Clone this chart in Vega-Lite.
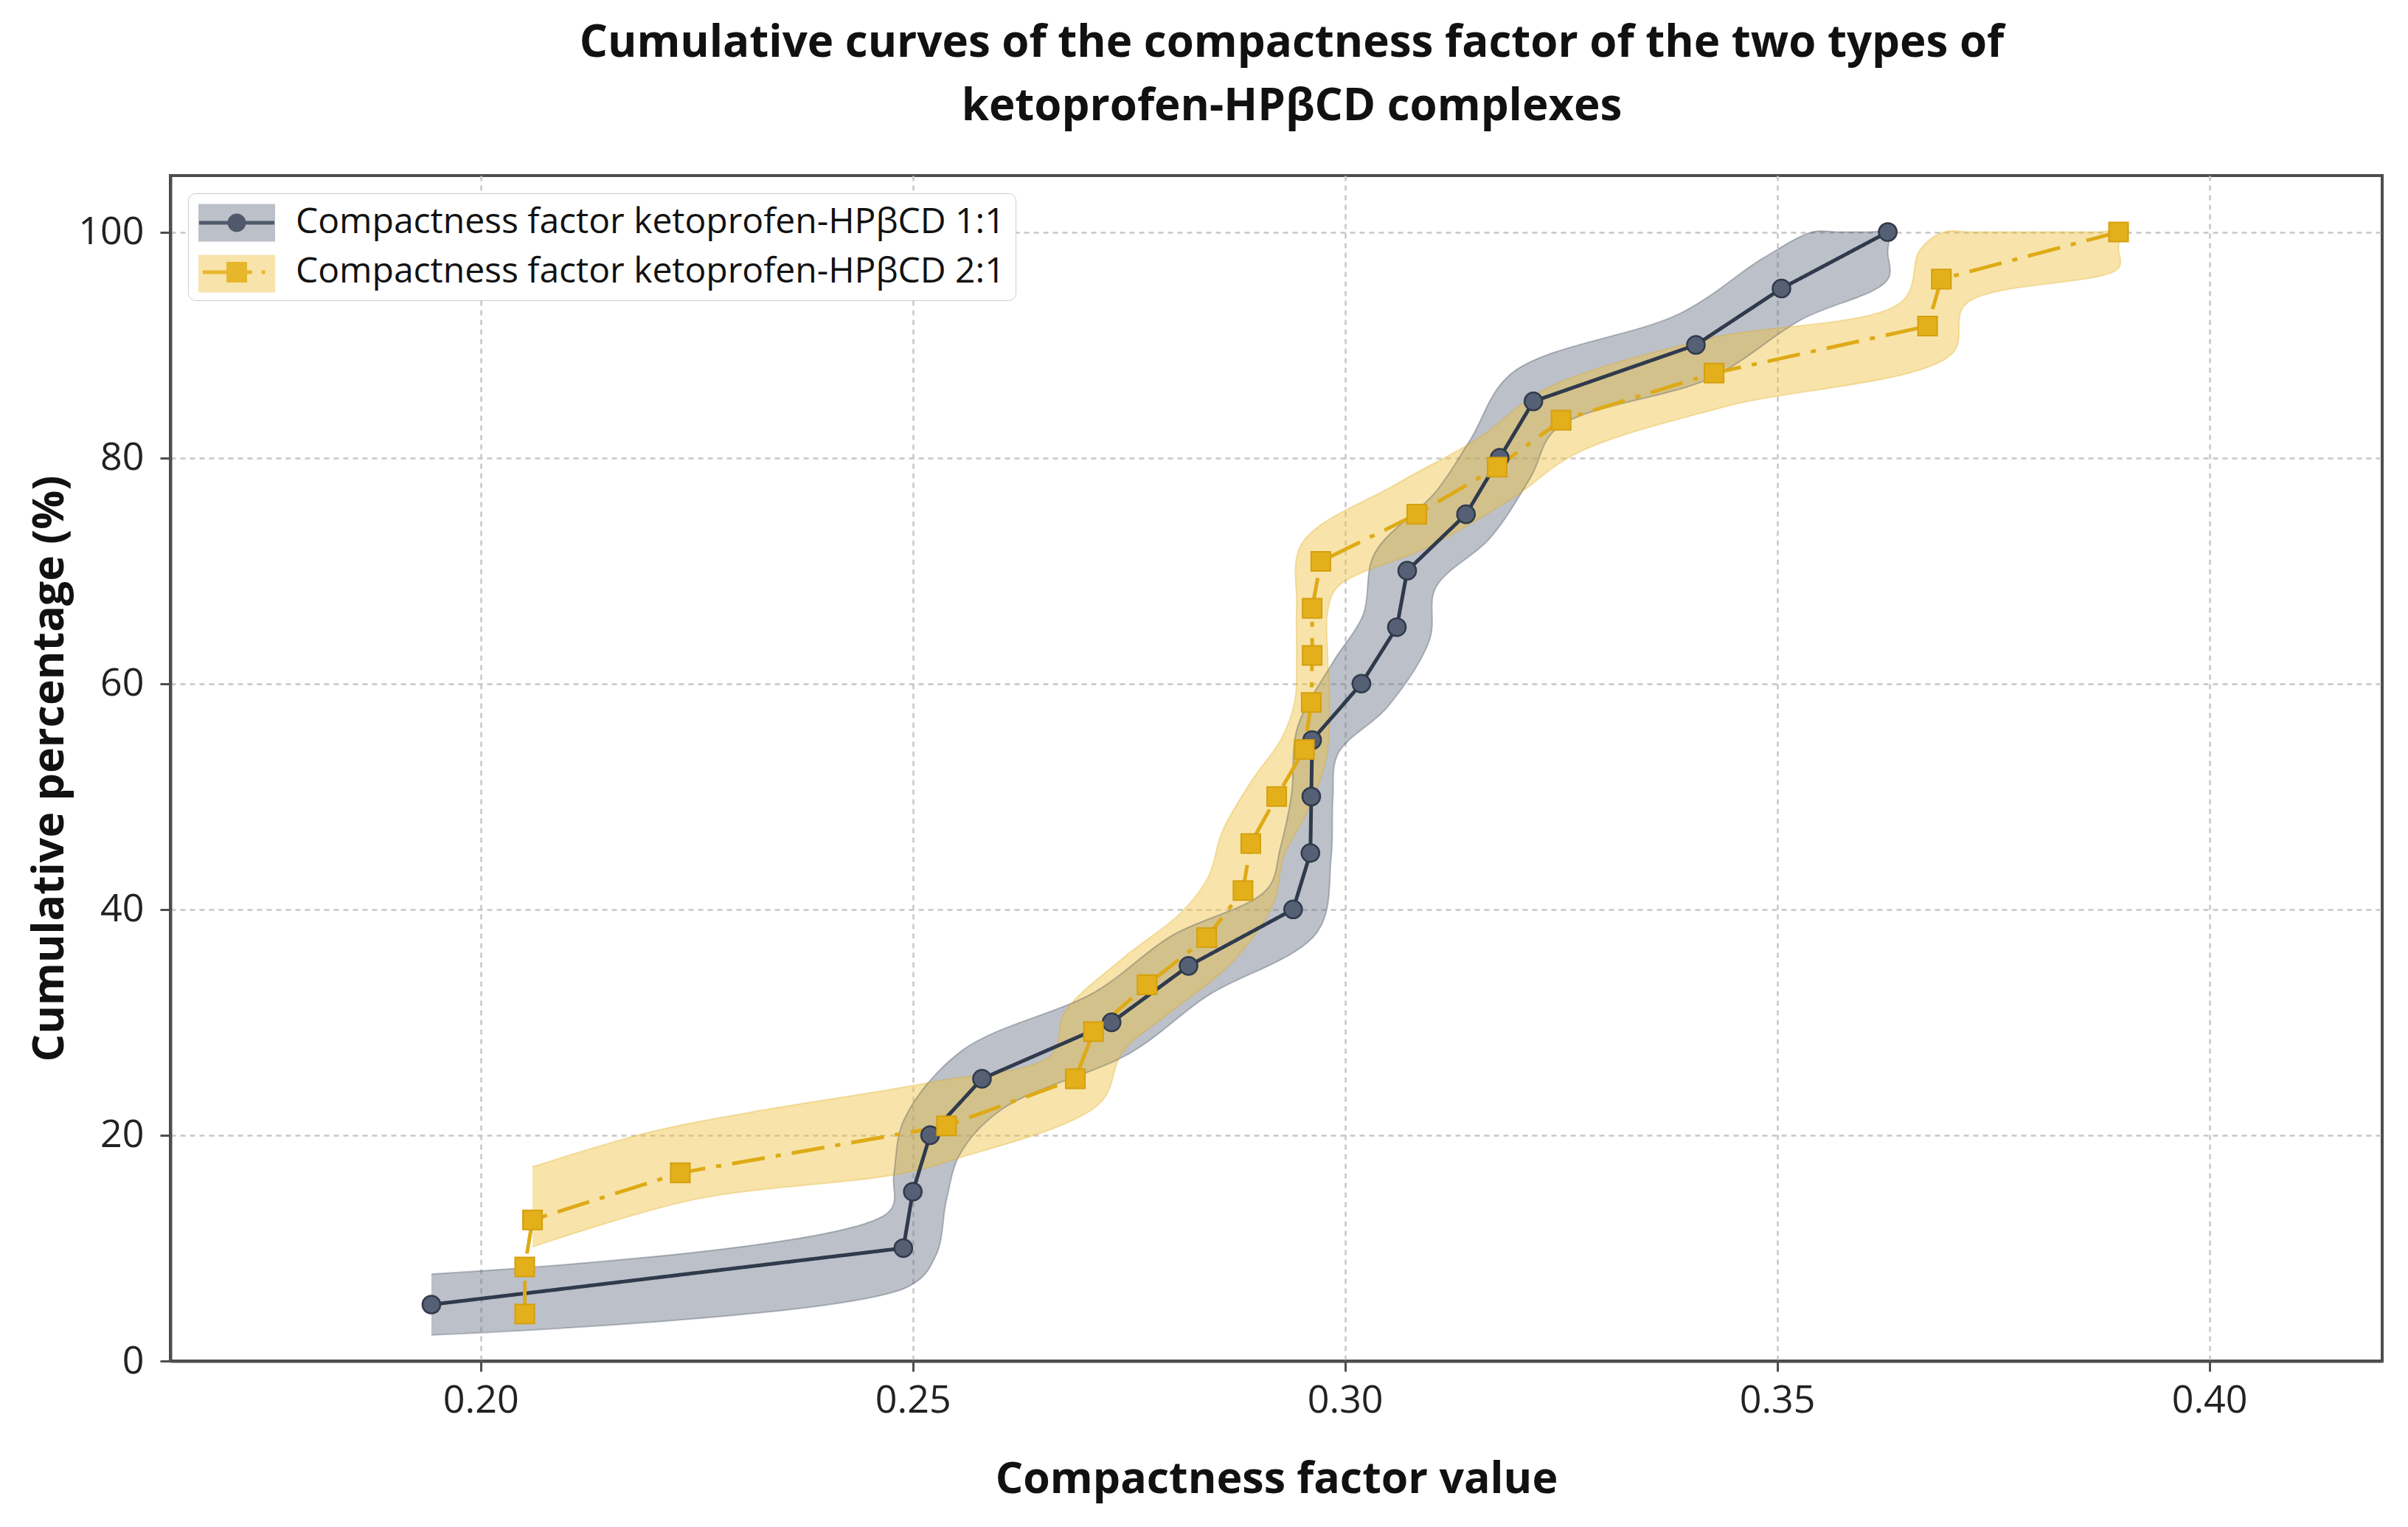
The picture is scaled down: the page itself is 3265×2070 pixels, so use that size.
{
  "$schema": "https://vega.github.io/schema/vega-lite/v6.json",
  "width": 2999,
  "height": 1607,
  "autosize": {"type": "none"},
  "padding": {"left": 231, "top": 238, "right": 35, "bottom": 225},
  "background": "white",
  "config": {
    "font": "Open Sans",
    "view": {"stroke": "#4d4d4d", "strokeWidth": 4},
    "axis": {
      "grid": true,
      "gridColor": "#c6c6c6",
      "gridDash": [7, 6],
      "gridWidth": 2.5,
      "domainColor": "#4d4d4d",
      "domainWidth": 4,
      "tickColor": "#4d4d4d",
      "tickWidth": 3,
      "tickSize": 14,
      "labelFont": "Open Sans",
      "labelFontSize": 52,
      "labelColor": "#222222",
      "titleFont": "Open Sans",
      "titleFontSize": 59,
      "titleFontWeight": "bold",
      "titleColor": "#111111"
    }
  },
  "title": {
    "text": ["Cumulative curves of the compactness factor of the two types of", "ketoprofen-HPβCD complexes"],
    "font": "Open Sans",
    "fontSize": 60,
    "fontWeight": "bold",
    "color": "#111111",
    "lineHeight": 86,
    "anchor": "middle",
    "baseline": "bottom",
    "dx": 21,
    "offset": 2
  },
  "datasets": {
    "pts": [
      {"series": "Compactness factor ketoprofen-HPβCD 1:1", "x": 0.1943, "y": 5},
      {"series": "Compactness factor ketoprofen-HPβCD 1:1", "x": 0.2489, "y": 10},
      {"series": "Compactness factor ketoprofen-HPβCD 1:1", "x": 0.2500, "y": 15},
      {"series": "Compactness factor ketoprofen-HPβCD 1:1", "x": 0.2520, "y": 20},
      {"series": "Compactness factor ketoprofen-HPβCD 1:1", "x": 0.2580, "y": 25},
      {"series": "Compactness factor ketoprofen-HPβCD 1:1", "x": 0.2730, "y": 30},
      {"series": "Compactness factor ketoprofen-HPβCD 1:1", "x": 0.2819, "y": 35},
      {"series": "Compactness factor ketoprofen-HPβCD 1:1", "x": 0.2940, "y": 40},
      {"series": "Compactness factor ketoprofen-HPβCD 1:1", "x": 0.2960, "y": 45},
      {"series": "Compactness factor ketoprofen-HPβCD 1:1", "x": 0.2961, "y": 50},
      {"series": "Compactness factor ketoprofen-HPβCD 1:1", "x": 0.2962, "y": 55},
      {"series": "Compactness factor ketoprofen-HPβCD 1:1", "x": 0.3019, "y": 60},
      {"series": "Compactness factor ketoprofen-HPβCD 1:1", "x": 0.3060, "y": 65},
      {"series": "Compactness factor ketoprofen-HPβCD 1:1", "x": 0.3072, "y": 70},
      {"series": "Compactness factor ketoprofen-HPβCD 1:1", "x": 0.3140, "y": 75},
      {"series": "Compactness factor ketoprofen-HPβCD 1:1", "x": 0.3179, "y": 80},
      {"series": "Compactness factor ketoprofen-HPβCD 1:1", "x": 0.3218, "y": 85},
      {"series": "Compactness factor ketoprofen-HPβCD 1:1", "x": 0.3406, "y": 90},
      {"series": "Compactness factor ketoprofen-HPβCD 1:1", "x": 0.3505, "y": 95},
      {"series": "Compactness factor ketoprofen-HPβCD 1:1", "x": 0.3628, "y": 100},
      {"series": "Compactness factor ketoprofen-HPβCD 2:1", "x": 0.2051, "y": 4.17},
      {"series": "Compactness factor ketoprofen-HPβCD 2:1", "x": 0.2051, "y": 8.33},
      {"series": "Compactness factor ketoprofen-HPβCD 2:1", "x": 0.2060, "y": 12.5},
      {"series": "Compactness factor ketoprofen-HPβCD 2:1", "x": 0.2231, "y": 16.67},
      {"series": "Compactness factor ketoprofen-HPβCD 2:1", "x": 0.2539, "y": 20.83},
      {"series": "Compactness factor ketoprofen-HPβCD 2:1", "x": 0.2688, "y": 25},
      {"series": "Compactness factor ketoprofen-HPβCD 2:1", "x": 0.2709, "y": 29.17},
      {"series": "Compactness factor ketoprofen-HPβCD 2:1", "x": 0.2771, "y": 33.33},
      {"series": "Compactness factor ketoprofen-HPβCD 2:1", "x": 0.2840, "y": 37.5},
      {"series": "Compactness factor ketoprofen-HPβCD 2:1", "x": 0.2882, "y": 41.67},
      {"series": "Compactness factor ketoprofen-HPβCD 2:1", "x": 0.2891, "y": 45.83},
      {"series": "Compactness factor ketoprofen-HPβCD 2:1", "x": 0.2921, "y": 50},
      {"series": "Compactness factor ketoprofen-HPβCD 2:1", "x": 0.2953, "y": 54.17},
      {"series": "Compactness factor ketoprofen-HPβCD 2:1", "x": 0.2961, "y": 58.33},
      {"series": "Compactness factor ketoprofen-HPβCD 2:1", "x": 0.2962, "y": 62.5},
      {"series": "Compactness factor ketoprofen-HPβCD 2:1", "x": 0.2962, "y": 66.67},
      {"series": "Compactness factor ketoprofen-HPβCD 2:1", "x": 0.2972, "y": 70.83},
      {"series": "Compactness factor ketoprofen-HPβCD 2:1", "x": 0.3083, "y": 75},
      {"series": "Compactness factor ketoprofen-HPβCD 2:1", "x": 0.3176, "y": 79.17},
      {"series": "Compactness factor ketoprofen-HPβCD 2:1", "x": 0.3250, "y": 83.33},
      {"series": "Compactness factor ketoprofen-HPβCD 2:1", "x": 0.3427, "y": 87.5},
      {"series": "Compactness factor ketoprofen-HPβCD 2:1", "x": 0.3674, "y": 91.67},
      {"series": "Compactness factor ketoprofen-HPβCD 2:1", "x": 0.3690, "y": 95.83},
      {"series": "Compactness factor ketoprofen-HPβCD 2:1", "x": 0.3895, "y": 100}
    ],
    "band": [
      {"series": "Compactness factor ketoprofen-HPβCD 1:1", "ord": 0, "x": 0.1943, "y": 7.7},
      {"series": "Compactness factor ketoprofen-HPβCD 1:1", "ord": 1, "x": 0.2472, "y": 13.2},
      {"series": "Compactness factor ketoprofen-HPβCD 1:1", "ord": 2, "x": 0.2478, "y": 16.5},
      {"series": "Compactness factor ketoprofen-HPβCD 1:1", "ord": 3, "x": 0.2490, "y": 21.4},
      {"series": "Compactness factor ketoprofen-HPβCD 1:1", "ord": 4, "x": 0.2557, "y": 27.5},
      {"series": "Compactness factor ketoprofen-HPβCD 1:1", "ord": 5, "x": 0.2711, "y": 32.7},
      {"series": "Compactness factor ketoprofen-HPβCD 1:1", "ord": 6, "x": 0.2798, "y": 37.6},
      {"series": "Compactness factor ketoprofen-HPβCD 1:1", "ord": 7, "x": 0.2910, "y": 41.8},
      {"series": "Compactness factor ketoprofen-HPβCD 1:1", "ord": 8, "x": 0.2925, "y": 45.4},
      {"series": "Compactness factor ketoprofen-HPβCD 1:1", "ord": 9, "x": 0.2938, "y": 50.1},
      {"series": "Compactness factor ketoprofen-HPβCD 1:1", "ord": 10, "x": 0.2945, "y": 56.1},
      {"series": "Compactness factor ketoprofen-HPβCD 1:1", "ord": 11, "x": 0.2986, "y": 61.9},
      {"series": "Compactness factor ketoprofen-HPβCD 1:1", "ord": 12, "x": 0.3021, "y": 66.1},
      {"series": "Compactness factor ketoprofen-HPβCD 1:1", "ord": 13, "x": 0.3034, "y": 71.5},
      {"series": "Compactness factor ketoprofen-HPβCD 1:1", "ord": 14, "x": 0.3105, "y": 77.0},
      {"series": "Compactness factor ketoprofen-HPβCD 1:1", "ord": 15, "x": 0.3145, "y": 81.6},
      {"series": "Compactness factor ketoprofen-HPβCD 1:1", "ord": 16, "x": 0.3193, "y": 87.5},
      {"series": "Compactness factor ketoprofen-HPβCD 1:1", "ord": 17, "x": 0.3388, "y": 92.8},
      {"series": "Compactness factor ketoprofen-HPβCD 1:1", "ord": 18, "x": 0.3484, "y": 97.7},
      {"series": "Compactness factor ketoprofen-HPβCD 1:1", "ord": 19, "x": 0.3541, "y": 100},
      {"series": "Compactness factor ketoprofen-HPβCD 1:1", "ord": 19.3, "x": 0.3570, "y": 100},
      {"series": "Compactness factor ketoprofen-HPβCD 1:1", "ord": 19.6, "x": 0.3608, "y": 100},
      {"series": "Compactness factor ketoprofen-HPβCD 1:1", "ord": 20, "x": 0.3628, "y": 100},
      {"series": "Compactness factor ketoprofen-HPβCD 1:1", "ord": 20.5, "x": 0.3628, "y": 98.2},
      {"series": "Compactness factor ketoprofen-HPβCD 1:1", "ord": 21, "x": 0.3628, "y": 95.8},
      {"series": "Compactness factor ketoprofen-HPβCD 1:1", "ord": 22, "x": 0.3527, "y": 92.2},
      {"series": "Compactness factor ketoprofen-HPβCD 1:1", "ord": 23, "x": 0.3424, "y": 87.1},
      {"series": "Compactness factor ketoprofen-HPβCD 1:1", "ord": 24, "x": 0.3245, "y": 82.6},
      {"series": "Compactness factor ketoprofen-HPβCD 1:1", "ord": 25, "x": 0.3215, "y": 78.3},
      {"series": "Compactness factor ketoprofen-HPβCD 1:1", "ord": 26, "x": 0.3168, "y": 72.9},
      {"series": "Compactness factor ketoprofen-HPβCD 1:1", "ord": 27, "x": 0.3105, "y": 68.5},
      {"series": "Compactness factor ketoprofen-HPβCD 1:1", "ord": 28, "x": 0.3098, "y": 63.9},
      {"series": "Compactness factor ketoprofen-HPβCD 1:1", "ord": 29, "x": 0.3050, "y": 58.0},
      {"series": "Compactness factor ketoprofen-HPβCD 1:1", "ord": 30, "x": 0.2992, "y": 53.8},
      {"series": "Compactness factor ketoprofen-HPβCD 1:1", "ord": 31, "x": 0.2986, "y": 49.9},
      {"series": "Compactness factor ketoprofen-HPβCD 1:1", "ord": 32, "x": 0.2984, "y": 44.6},
      {"series": "Compactness factor ketoprofen-HPβCD 1:1", "ord": 33, "x": 0.2968, "y": 38.0},
      {"series": "Compactness factor ketoprofen-HPβCD 1:1", "ord": 34, "x": 0.2840, "y": 32.3},
      {"series": "Compactness factor ketoprofen-HPβCD 1:1", "ord": 35, "x": 0.2752, "y": 27.3},
      {"series": "Compactness factor ketoprofen-HPβCD 1:1", "ord": 36, "x": 0.2603, "y": 22.3},
      {"series": "Compactness factor ketoprofen-HPβCD 1:1", "ord": 37, "x": 0.2555, "y": 18.4},
      {"series": "Compactness factor ketoprofen-HPβCD 1:1", "ord": 38, "x": 0.2539, "y": 14.3},
      {"series": "Compactness factor ketoprofen-HPβCD 1:1", "ord": 39, "x": 0.2527, "y": 9.4},
      {"series": "Compactness factor ketoprofen-HPβCD 1:1", "ord": 40, "x": 0.2495, "y": 6.6},
      {"series": "Compactness factor ketoprofen-HPβCD 1:1", "ord": 41, "x": 0.1943, "y": 2.3},
      {"series": "Compactness factor ketoprofen-HPβCD 2:1", "ord": 0, "x": 0.2060, "y": 17.2},
      {"series": "Compactness factor ketoprofen-HPβCD 2:1", "ord": 1, "x": 0.2197, "y": 20.3},
      {"series": "Compactness factor ketoprofen-HPβCD 2:1", "ord": 2, "x": 0.2317, "y": 22.1},
      {"series": "Compactness factor ketoprofen-HPβCD 2:1", "ord": 3, "x": 0.2521, "y": 24.7},
      {"series": "Compactness factor ketoprofen-HPβCD 2:1", "ord": 4, "x": 0.2660, "y": 27.1},
      {"series": "Compactness factor ketoprofen-HPβCD 2:1", "ord": 5, "x": 0.2676, "y": 30.9},
      {"series": "Compactness factor ketoprofen-HPβCD 2:1", "ord": 6, "x": 0.2745, "y": 35.8},
      {"series": "Compactness factor ketoprofen-HPβCD 2:1", "ord": 7, "x": 0.2810, "y": 39.7},
      {"series": "Compactness factor ketoprofen-HPβCD 2:1", "ord": 8, "x": 0.2842, "y": 42.9},
      {"series": "Compactness factor ketoprofen-HPβCD 2:1", "ord": 9, "x": 0.2858, "y": 46.9},
      {"series": "Compactness factor ketoprofen-HPβCD 2:1", "ord": 10, "x": 0.2893, "y": 51.5},
      {"series": "Compactness factor ketoprofen-HPβCD 2:1", "ord": 11, "x": 0.2927, "y": 55.2},
      {"series": "Compactness factor ketoprofen-HPβCD 2:1", "ord": 12, "x": 0.2942, "y": 58.5},
      {"series": "Compactness factor ketoprofen-HPβCD 2:1", "ord": 13, "x": 0.2944, "y": 62.4},
      {"series": "Compactness factor ketoprofen-HPβCD 2:1", "ord": 14, "x": 0.2944, "y": 66.9},
      {"series": "Compactness factor ketoprofen-HPβCD 2:1", "ord": 15, "x": 0.2950, "y": 72.4},
      {"series": "Compactness factor ketoprofen-HPβCD 2:1", "ord": 16, "x": 0.3060, "y": 77.7},
      {"series": "Compactness factor ketoprofen-HPβCD 2:1", "ord": 17, "x": 0.3154, "y": 81.7},
      {"series": "Compactness factor ketoprofen-HPβCD 2:1", "ord": 18, "x": 0.3232, "y": 86.1},
      {"series": "Compactness factor ketoprofen-HPβCD 2:1", "ord": 19, "x": 0.3417, "y": 90.5},
      {"series": "Compactness factor ketoprofen-HPβCD 2:1", "ord": 20, "x": 0.3645, "y": 93.9},
      {"series": "Compactness factor ketoprofen-HPβCD 2:1", "ord": 21, "x": 0.3665, "y": 98.4},
      {"series": "Compactness factor ketoprofen-HPβCD 2:1", "ord": 22, "x": 0.3693, "y": 100},
      {"series": "Compactness factor ketoprofen-HPβCD 2:1", "ord": 22.3, "x": 0.3725, "y": 100},
      {"series": "Compactness factor ketoprofen-HPβCD 2:1", "ord": 22.6, "x": 0.3870, "y": 100},
      {"series": "Compactness factor ketoprofen-HPβCD 2:1", "ord": 23, "x": 0.3895, "y": 100},
      {"series": "Compactness factor ketoprofen-HPβCD 2:1", "ord": 23.5, "x": 0.3895, "y": 98.5},
      {"series": "Compactness factor ketoprofen-HPβCD 2:1", "ord": 24, "x": 0.3895, "y": 96.8},
      {"series": "Compactness factor ketoprofen-HPβCD 2:1", "ord": 25, "x": 0.3718, "y": 93.6},
      {"series": "Compactness factor ketoprofen-HPβCD 2:1", "ord": 26, "x": 0.3702, "y": 89.2},
      {"series": "Compactness factor ketoprofen-HPβCD 2:1", "ord": 27, "x": 0.3438, "y": 84.5},
      {"series": "Compactness factor ketoprofen-HPβCD 2:1", "ord": 28, "x": 0.3268, "y": 80.4},
      {"series": "Compactness factor ketoprofen-HPβCD 2:1", "ord": 29, "x": 0.3197, "y": 76.6},
      {"series": "Compactness factor ketoprofen-HPβCD 2:1", "ord": 30, "x": 0.3099, "y": 72.2},
      {"series": "Compactness factor ketoprofen-HPβCD 2:1", "ord": 31, "x": 0.2992, "y": 68.6},
      {"series": "Compactness factor ketoprofen-HPβCD 2:1", "ord": 32, "x": 0.2980, "y": 66.4},
      {"series": "Compactness factor ketoprofen-HPβCD 2:1", "ord": 33, "x": 0.2980, "y": 62.4},
      {"series": "Compactness factor ketoprofen-HPβCD 2:1", "ord": 34, "x": 0.2982, "y": 58.0},
      {"series": "Compactness factor ketoprofen-HPβCD 2:1", "ord": 35, "x": 0.2978, "y": 53.3},
      {"series": "Compactness factor ketoprofen-HPβCD 2:1", "ord": 36, "x": 0.2955, "y": 48.5},
      {"series": "Compactness factor ketoprofen-HPβCD 2:1", "ord": 37, "x": 0.2929, "y": 44.7},
      {"series": "Compactness factor ketoprofen-HPβCD 2:1", "ord": 38, "x": 0.2917, "y": 40.5},
      {"series": "Compactness factor ketoprofen-HPβCD 2:1", "ord": 39, "x": 0.2869, "y": 35.3},
      {"series": "Compactness factor ketoprofen-HPβCD 2:1", "ord": 40, "x": 0.2798, "y": 30.9},
      {"series": "Compactness factor ketoprofen-HPβCD 2:1", "ord": 41, "x": 0.2743, "y": 27.4},
      {"series": "Compactness factor ketoprofen-HPβCD 2:1", "ord": 42, "x": 0.2716, "y": 22.8},
      {"series": "Compactness factor ketoprofen-HPβCD 2:1", "ord": 43, "x": 0.2550, "y": 17.9},
      {"series": "Compactness factor ketoprofen-HPβCD 2:1", "ord": 44, "x": 0.2479, "y": 16.5},
      {"series": "Compactness factor ketoprofen-HPβCD 2:1", "ord": 45, "x": 0.2247, "y": 14.3},
      {"series": "Compactness factor ketoprofen-HPβCD 2:1", "ord": 46, "x": 0.2060, "y": 10.1}
    ]
  },
  "encoding": {
    "x": {
      "field": "x",
      "type": "quantitative",
      "title": "Compactness factor value",
      "scale": {"domain": [0.1641, 0.42], "nice": false, "zero": false},
      "axis": {"values": [0.2, 0.25, 0.3, 0.35, 0.4], "format": ".2f", "labelPadding": 14, "titlePadding": 52}
    },
    "y": {
      "field": "y",
      "type": "quantitative",
      "title": "Cumulative percentage (%)",
      "scale": {"domain": [0, 105], "nice": false},
      "axis": {"values": [0, 20, 40, 60, 80, 100], "labelPadding": 22, "titlePadding": 8}
    }
  },
  "layer": [
    {
      "data": {"name": "pts"},
      "mark": {"type": "point", "filled": true, "opacity": 0},
      "encoding": {
        "color": {
          "field": "series",
          "type": "nominal",
          "scale": {"range": ["#3a4457", "#e0ad18"]},
          "legend": {
            "title": null,
            "orient": "none",
            "legendX": 24,
            "legendY": 24,
            "padding": 14,
            "fillColor": "white",
            "strokeColor": "#cccccc",
            "cornerRadius": 10,
            "symbolSize": 2704,
            "symbolOpacity": 1,
            "symbolStrokeWidth": 0,
            "labelFont": "Open Sans",
            "labelFontSize": 48,
            "labelColor": "#111111",
            "labelOffset": 80,
            "labelLimit": 3000,
            "rowPadding": 17
          }
        },
        "shape": {
          "field": "series",
          "type": "nominal",
          "scale": {
            "range": [
              "M-0.96,-0.1H2.96V0.1H-0.96Z M1.48,0A0.48,0.48,0,1,1,0.52,0A0.48,0.48,0,1,1,1.48,0Z",
              "M-0.77,-0.1H0.46V0.1H-0.77Z M0.46,-0.54H1.54V0.54H0.46Z M1.54,-0.1H1.8V0.1H1.54Z M2.3,-0.1H2.48V0.1H2.3Z"
            ]
          },
          "legend": {
            "title": null,
            "orient": "none",
            "legendX": 24,
            "legendY": 24,
            "padding": 14,
            "fillColor": "white",
            "strokeColor": "#cccccc",
            "cornerRadius": 10,
            "symbolSize": 2704,
            "symbolOpacity": 1,
            "symbolStrokeWidth": 0,
            "labelFont": "Open Sans",
            "labelFontSize": 48,
            "labelColor": "#111111",
            "labelOffset": 80,
            "labelLimit": 3000,
            "rowPadding": 17
          }
        }
      }
    },
    {
      "data": {"name": "band"},
      "mark": {"type": "line", "strokeOpacity": 0, "interpolate": "catmull-rom"},
      "encoding": {
        "order": {"field": "ord", "type": "quantitative"},
        "detail": {"field": "series", "type": "nominal"},
        "fill": {
          "field": "series",
          "type": "nominal",
          "scale": {
            "domain": ["Compactness factor ketoprofen-HPβCD 1:1", "Compactness factor ketoprofen-HPβCD 2:1"],
            "range": ["rgba(107,115,134,0.45)", "rgba(240,196,66,0.45)"]
          },
          "legend": {
            "title": null,
            "orient": "top-left",
            "offset": 24,
            "padding": 14,
            "symbolSize": 2704,
            "symbolType": "M-1,-0.98H3V0.98H-1Z",
            "symbolStrokeWidth": 0,
            "symbolOpacity": 1,
            "labelFont": "Open Sans",
            "labelFontSize": 48,
            "labelOffset": 80,
            "labelLimit": 3000,
            "labelOpacity": 0,
            "rowPadding": 17
          }
        }
      }
    },
    {
      "data": {"name": "band"},
      "mark": {"type": "line", "strokeWidth": 2, "strokeOpacity": 0.3, "interpolate": "catmull-rom"},
      "encoding": {
        "order": {"field": "ord", "type": "quantitative"},
        "stroke": {"field": "series", "type": "nominal", "scale": {"range": ["#2f3a4c", "#deaa16"]}, "legend": null}
      }
    },
    {
      "data": {"name": "pts"},
      "mark": {"type": "line", "strokeWidth": 5},
      "encoding": {
        "order": {"field": "y", "type": "quantitative"},
        "stroke": {"field": "series", "type": "nominal", "legend": null},
        "strokeDash": {
          "field": "series",
          "type": "nominal",
          "scale": {"range": [[1, 0], [45, 15, 7, 15]]},
          "legend": null
        }
      }
    },
    {
      "data": {"name": "pts"},
      "transform": [{"filter": "datum.series === 'Compactness factor ketoprofen-HPβCD 1:1'"}],
      "mark": {"type": "circle", "size": 580, "fill": "#556074", "stroke": "#2f3a4c", "strokeWidth": 2.5, "opacity": 1}
    },
    {
      "data": {"name": "pts"},
      "transform": [{"filter": "datum.series === 'Compactness factor ketoprofen-HPβCD 2:1'"}],
      "mark": {"type": "square", "size": 680, "fill": "#e3b01b", "stroke": "#d4a010", "strokeWidth": 2, "opacity": 1}
    }
  ]
}
